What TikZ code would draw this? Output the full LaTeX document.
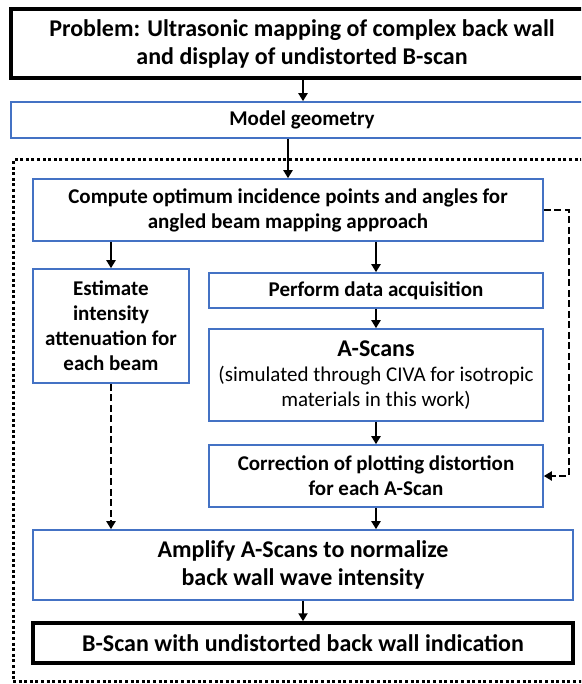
\documentclass[tikz,border=0pt]{standalone}
\usepackage{fontspec}
\setmainfont{Carlito}
\usetikzlibrary{arrows.meta}
\definecolor{boxblue}{RGB}{68,114,196}
\begin{document}
\begin{tikzpicture}[x=1pt,y=-1pt,
  bluebox/.style={draw=boxblue, line width=1.6pt, rectangle, inner sep=0pt, align=center, font=\bfseries\fontsize{21}{25}\selectfont},
  blackbox/.style={draw=black, line width=3.5pt, rectangle, inner sep=0pt, align=center, font=\bfseries\fontsize{24}{28}\selectfont},
  arr/.style={line width=2pt, -{Triangle[length=8pt,width=9pt]}},
  darr/.style={arr, line width=2.2pt, dash pattern=on 7pt off 3.5pt},
  frame/.style={draw=black, line width=3pt, dash pattern=on 3pt off 2.6pt, rectangle, inner sep=0pt}
  ]
\useasboundingbox (0,0) rectangle (581,684);
\clip (0,0) rectangle (581,684);

\node[frame, minimum width=579pt, minimum height=521pt] (outer) at (302.5,420.5) {};

\node[blackbox, minimum width=582pt, minimum height=69pt] (title) at (302,43.5)
  {Problem: Ultrasonic mapping of complex back wall\\and display of undistorted B-scan};
\node[bluebox, minimum width=582pt, minimum height=36pt] (model) at (302,120) {Model geometry};
\node[bluebox, minimum width=510pt, minimum height=62pt] (compute) at (288,210)
  {Compute optimum incidence points and angles for\\angled beam mapping approach};
\node[bluebox, minimum width=156pt, minimum height=114pt] (estimate) at (111,326)
  {Estimate\\intensity\\attenuation for\\each beam};
\node[bluebox, minimum width=334pt, minimum height=35pt] (perform) at (376,290.5) {Perform data acquisition};
\node[bluebox, minimum width=334pt, minimum height=92pt, font=\fontsize{21}{25}\selectfont] (ascans) at (376,375)
  {{\bfseries\fontsize{24}{25}\selectfont A-Scans}\\(simulated through CIVA for isotropic\\materials in this work)};
\node[bluebox, minimum width=334pt, minimum height=62pt] (correction) at (376,476)
  {Correction of plotting distortion\\for each A-Scan};
\node[bluebox, minimum width=540pt, minimum height=70pt, font=\bfseries\fontsize{24}{28}\selectfont] (amplify) at (303,565)
  {Amplify A-Scans to normalize\\back wall wave intensity};
\node[blackbox, minimum width=540pt, minimum height=40pt] (bscan) at (303,643)
  {B-Scan with undistorted back wall indication};

\coordinate (rail) at (569,0);

\draw[arr] ([xshift=1pt]title.south) -- ([xshift=1pt]model.north);
\draw[arr] (model.south -| compute.north) -- (compute.north);
\draw[arr] (compute.south -| estimate.north) -- (estimate.north);
\draw[arr] (compute.south -| perform.north) -- (perform.north);
\draw[arr] (perform) -- (ascans);
\draw[arr] (ascans) -- (correction);
\draw[arr] (correction.south) -- (correction.south |- amplify.north);
\draw[darr] (estimate.south) -- (estimate.south |- amplify.north);
\draw[arr] (amplify) -- (bscan);
\draw[darr] (compute.east) -- (compute.east -| rail) -- (correction.east -| rail) -- (correction.east);
\end{tikzpicture}
\end{document}
